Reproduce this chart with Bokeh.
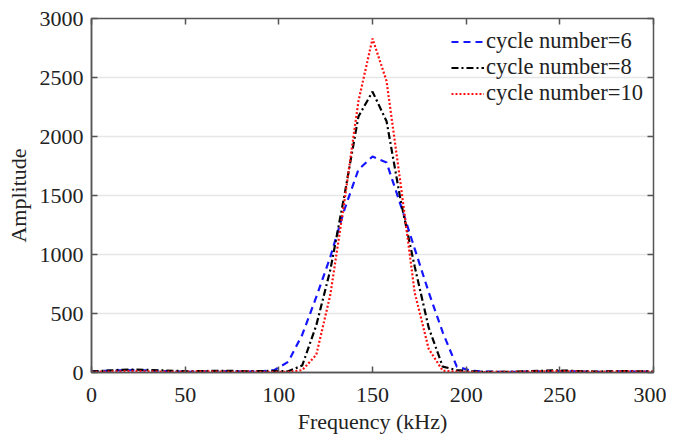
from bokeh.plotting import figure
from bokeh.models import LinearAxis, Range1d, Legend, LegendItem, FixedTicker
from bokeh.embed import file_html
from bokeh.resources import INLINE

freq_step = 7.5
n_points = 41
freq = [i * freq_step for i in range(n_points)]

amp_cycle6 = [10, 15, 18, 20, 18, 12, 8, 6, 10, 12,
              10, 8, 10, 20, 90, 320, 640, 980, 1380, 1720,
              1830, 1780, 1420, 1050, 680, 340, 50, 15, 8, 6,
              5, 8, 10, 12, 10, 8, 6, 8, 10, 8, 6]
amp_cycle8 = [8, 15, 22, 25, 22, 18, 14, 10, 12, 15,
              14, 10, 12, 14, 10, 60, 400, 870, 1500, 2170,
              2380, 2130, 1460, 900, 380, 50, 20, 10, 6, 5,
              6, 10, 14, 18, 15, 10, 8, 10, 12, 10, 8]
amp_cycle10 = [5, 8, 10, 12, 10, 8, 6, 8, 10, 8,
               6, 8, 6, 5, 5, 20, 150, 660, 1450, 2300,
               2830, 2470, 1600, 680, 200, 15, 8, 5, 4, 5,
               6, 8, 10, 12, 10, 8, 6, 8, 10, 8, 6]

labels = ["cycle number=6", "cycle number=8", "cycle number=10"]
x_ticks = [0, 50, 100, 150, 200, 250, 300]
y_ticks = [0, 500, 1000, 1500, 2000, 2500, 3000]

FONT = "Liberation Serif"
AX = "#555555"

p = figure(width=666, height=437, output_backend="svg", toolbar_location=None,
           x_range=Range1d(0, 300), y_range=Range1d(0, 3000),
           min_border_left=91, min_border_top=18, min_border_right=13,
           min_border_bottom=65)
p.outline_line_color = AX
p.outline_line_width = 1.5
p.background_fill_color = "white"

p.xgrid.grid_line_color = None
p.ygrid.grid_line_color = "#e6e6e6"
p.ygrid.grid_line_width = 1.5
p.ygrid.ticker = FixedTicker(ticks=y_ticks)

for ax in [p.xaxis[0], p.yaxis[0]]:
    ax.axis_line_color = AX
    ax.axis_line_width = 1.5
    ax.major_tick_line_color = AX
    ax.major_tick_line_width = 1.5
    ax.major_tick_in = 6
    ax.major_tick_out = 0
    ax.minor_tick_line_color = None
    ax.major_label_text_font = FONT
    ax.major_label_text_font_size = "22px"
    ax.major_label_text_color = "#222222"
    ax.axis_label_text_font = FONT
    ax.axis_label_text_font_size = "22px"
    ax.axis_label_text_font_style = "normal"
    ax.axis_label_text_color = "#222222"

p.xaxis.ticker = FixedTicker(ticks=x_ticks)
p.yaxis.ticker = FixedTicker(ticks=y_ticks)
p.xaxis.axis_label = "Frequency (kHz)"
p.yaxis.axis_label = "Amplitude"
p.xaxis.major_label_standoff = 15
p.xaxis.axis_label_standoff = 4
p.yaxis.major_label_standoff = 8
p.yaxis.axis_label_standoff = 6

top = LinearAxis(ticker=FixedTicker(ticks=x_ticks), major_label_text_font_size="0px",
                 major_tick_in=6, major_tick_out=0, minor_tick_line_color=None,
                 axis_line_color=AX, major_tick_line_color=AX, major_tick_line_width=1.5)
right = LinearAxis(ticker=FixedTicker(ticks=y_ticks), major_label_text_font_size="0px",
                   major_tick_in=6, major_tick_out=0, minor_tick_line_color=None,
                   axis_line_color=AX, major_tick_line_color=AX, major_tick_line_width=1.5)
top.major_label_text_alpha = 0
right.major_label_text_alpha = 0
p.add_layout(top, "above")
p.add_layout(right, "right")

r6 = p.line(freq, amp_cycle6, line_color="#1515ff", line_width=2.2, line_dash="7 5")
r8 = p.line(freq, amp_cycle8, line_color="#000000", line_width=2.2, line_dash="7 3 2 3")
r10 = p.line(freq, amp_cycle10, line_color="#ff1010", line_width=2.2, line_dash="2 2")

legend = Legend(items=[LegendItem(label=labels[0], renderers=[r6]),
                       LegendItem(label=labels[1], renderers=[r8]),
                       LegendItem(label=labels[2], renderers=[r10])],
                location="top_right")
legend.background_fill_alpha = 0
legend.border_line_alpha = 0
legend.label_text_font = FONT
legend.label_text_font_size = "22.5px"
legend.label_text_color = "#222222"
legend.glyph_width = 33
legend.label_standoff = 2
legend.spacing = 0
legend.label_height = 25
legend.glyph_height = 25
legend.padding = 2
legend.margin = 8
p.add_layout(legend)

open("out.html", "w").write(file_html(p, INLINE))
